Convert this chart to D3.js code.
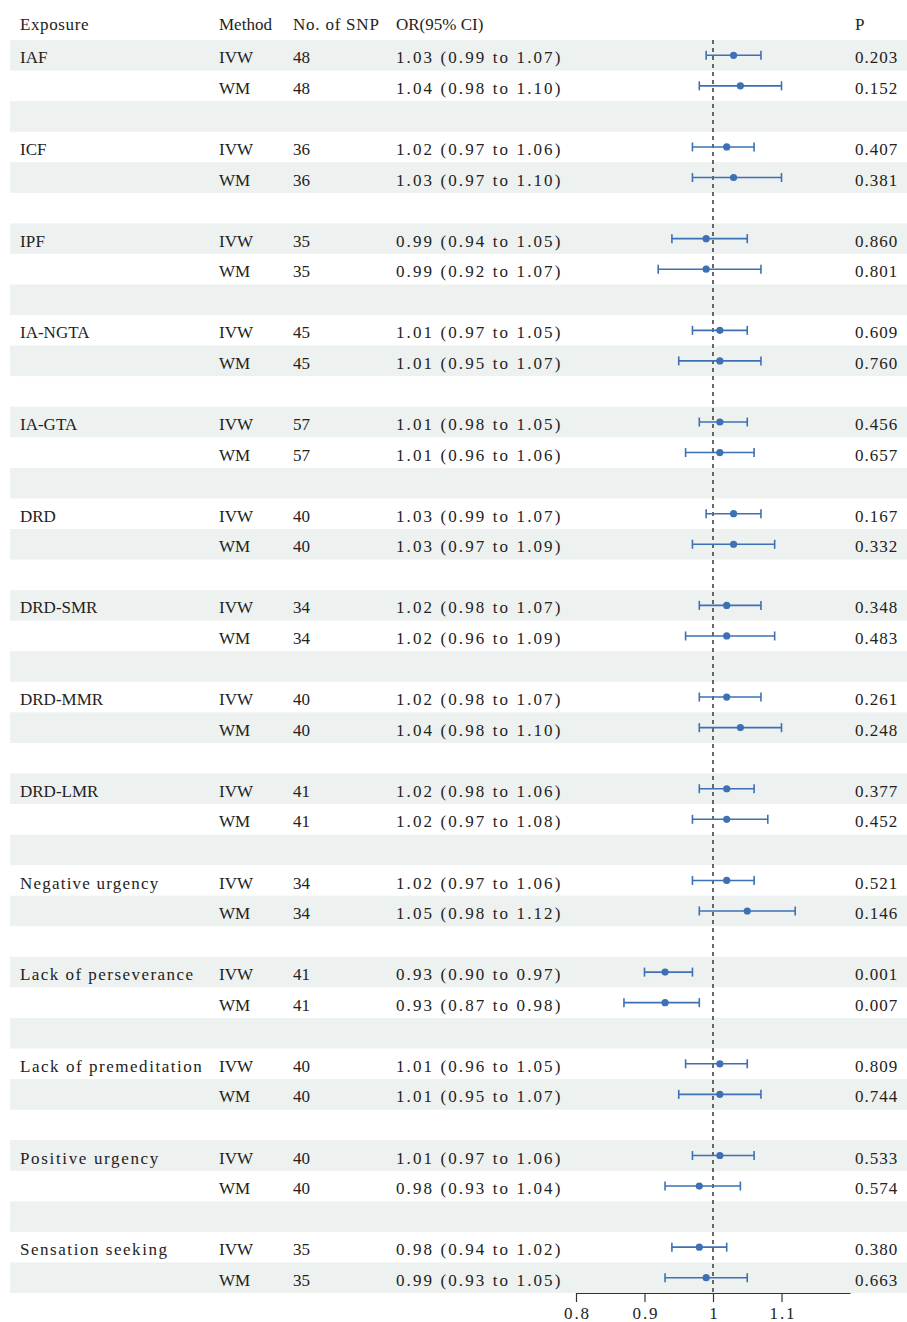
<!DOCTYPE html>
<html>
<head>
<meta charset="utf-8">
<script src="https://cdn.jsdelivr.net/npm/d3@7"></script>
<style>
  html, body { margin: 0; padding: 0; background: #fff; }
  svg text { font-family: "Liberation Serif", "DejaVu Serif", serif; fill: #222; }
</style>
</head>
<body>
<svg id="chart" width="907" height="1322"></svg>
<script>
// Exposures (each has an IVW and a WM estimate)
const exposures = ["IAF", "ICF", "IPF", "IA-NGTA", "IA-GTA", "DRD", "DRD-SMR", "DRD-MMR",
  "DRD-LMR", "Negative urgency", "Lack of perseverance", "Lack of premeditation",
  "Positive urgency", "Sensation seeking"];
const methods = ["IVW", "WM"];
const nSnp = [48, 48, 36, 36, 35, 35, 45, 45, 57, 57, 40, 40, 34, 34, 40, 40, 41, 41, 34, 34, 41, 41, 40, 40, 40, 40, 35, 35];
const orValues = [1.03, 1.04, 1.02, 1.03, 0.99, 0.99, 1.01, 1.01, 1.01, 1.01, 1.03, 1.03, 1.02, 1.02,
  1.02, 1.04, 1.02, 1.02, 1.02, 1.05, 0.93, 0.93, 1.01, 1.01, 1.01, 0.98, 0.98, 0.99];
const ciLower = [0.99, 0.98, 0.97, 0.97, 0.94, 0.92, 0.97, 0.95, 0.98, 0.96, 0.99, 0.97, 0.98, 0.96,
  0.98, 0.98, 0.98, 0.97, 0.97, 0.98, 0.90, 0.87, 0.96, 0.95, 0.97, 0.93, 0.94, 0.93];
const ciUpper = [1.07, 1.10, 1.06, 1.10, 1.05, 1.07, 1.05, 1.07, 1.05, 1.06, 1.07, 1.09, 1.07, 1.09,
  1.07, 1.10, 1.06, 1.08, 1.06, 1.12, 0.97, 0.98, 1.05, 1.07, 1.06, 1.04, 1.02, 1.05];
const pValues = ["0.203", "0.152", "0.407", "0.381", "0.860", "0.801", "0.609", "0.760", "0.456", "0.657",
  "0.167", "0.332", "0.348", "0.483", "0.261", "0.248", "0.377", "0.452", "0.521", "0.146",
  "0.001", "0.007", "0.809", "0.744", "0.533", "0.574", "0.380", "0.663"];
const headers = ["Exposure", "Method", "No. of SNP", "OR(95% CI)", "P"];
const axisTicks = [0.8, 0.9, 1, 1.1];
const nullValue = 1;

// Build the table rows: two estimates per exposure followed by a spacer row
const rows = [];
exposures.forEach((e, g) => {
  methods.forEach((m, k) => {
    const i = g * 2 + k;
    rows.push({
      exposure: k === 0 ? e : "", method: m, n: nSnp[i], or: orValues[i],
      lo: ciLower[i], hi: ciUpper[i], p: pValues[i], spacer: false
    });
  });
  if (g < exposures.length - 1) rows.push({ spacer: true });
});

const svg = d3.select("#chart");
const fmt = d3.format(".2f");

const y = d3.scaleBand().domain(d3.range(rows.length)).range([40, 1293]).padding(0);
const x = d3.scaleLinear().domain([0.8, 1.2]).range([576, 850]);

const col = { exposure: 20, method: 219, n: 293, ci: 396, p: 855 };
const fontSize = 17;
const charW = 8.72; // fixed advance per character, typewriter-style columns

// Text helper: widen narrow strings to a fixed pitch so columns line up
function monoText(sel) {
  sel.attr("font-size", fontSize)
    .each(function () {
      const node = d3.select(this);
      const t = node.text();
      const target = (t.length - 0.15) * charW;
      if (t.length > 1 && this.getComputedTextLength() < target) {
        node.attr("lengthAdjust", "spacing").attr("textLength", target);
      }
    });
  return sel;
}

// Alternating row shading
svg.append("g").selectAll("rect")
  .data(rows.map((r, i) => i).filter(i => i % 2 === 0))
  .join("rect")
  .attr("x", 10).attr("width", 897)
  .attr("y", i => y(i)).attr("height", y.bandwidth())
  .attr("fill", "#edf1ef");

// Header
const hdrX = [col.exposure, col.method, col.n, col.ci, col.p];
svg.append("g").selectAll("text").data(headers).join("text")
  .attr("x", (d, i) => hdrX[i]).attr("y", 24).attr("dy", "0.36em")
  .text(d => d)
  .call(monoText);

// Table text
const body = svg.append("g");
rows.forEach((r, i) => {
  if (r.spacer) return;
  const cy = y(i) + y.bandwidth() / 2 + 2;
  const cells = [
    [col.exposure, r.exposure],
    [col.method, r.method],
    [col.n, String(r.n)],
    [col.ci, `${fmt(r.or)} (${fmt(r.lo)} to ${fmt(r.hi)})`],
    [col.p, r.p]
  ];
  cells.forEach(([cx, t]) => {
    if (!t) return;
    body.append("text")
      .attr("x", cx).attr("y", cy).attr("dy", "0.36em")
      .text(t)
      .call(monoText);
  });
});

// Reference line at OR = 1
svg.append("line")
  .attr("x1", x(nullValue)).attr("x2", x(nullValue))
  .attr("y1", 40).attr("y2", 1293)
  .attr("stroke", "#444").attr("stroke-width", 1.6)
  .attr("stroke-dasharray", "4,4");

// Confidence intervals and point estimates
const blue = "#3d70b5";
const est = svg.append("g");
const data = rows.map((r, i) => ({ ...r, i })).filter(r => !r.spacer);
const capH = 4.5;
const cyOf = d => y(d.i) + y.bandwidth() / 2;
est.selectAll("line.ci").data(data).join("line")
  .attr("class", "ci")
  .attr("x1", d => x(d.lo)).attr("x2", d => x(d.hi))
  .attr("y1", cyOf).attr("y2", cyOf)
  .attr("stroke", blue).attr("stroke-width", 1.6);
["lo", "hi"].forEach(k => {
  est.selectAll("line.cap-" + k).data(data).join("line")
    .attr("class", "cap-" + k)
    .attr("x1", d => x(d[k])).attr("x2", d => x(d[k]))
    .attr("y1", d => cyOf(d) - capH)
    .attr("y2", d => cyOf(d) + capH)
    .attr("stroke", blue).attr("stroke-width", 1.6);
});
est.selectAll("circle").data(data).join("circle")
  .attr("cx", d => x(d.or)).attr("cy", cyOf)
  .attr("r", 3.6).attr("fill", blue);

// X axis
const axis = svg.append("g")
  .attr("transform", "translate(0,1293)")
  .call(d3.axisBottom(x).tickValues(axisTicks).tickSize(9).tickSizeOuter(0)
    .tickFormat(d => d3.format("")(d)));
axis.select(".domain").attr("stroke", "#333").attr("stroke-width", 1.2);
axis.selectAll(".tick line").attr("stroke", "#333").attr("stroke-width", 1.2);
axis.selectAll(".tick text")
  .attr("font-family", "Liberation Serif, DejaVu Serif, serif")
  .attr("fill", "#222").attr("dy", "0.36em").attr("y", 20)
  .call(monoText);
</script>
</body>
</html>
